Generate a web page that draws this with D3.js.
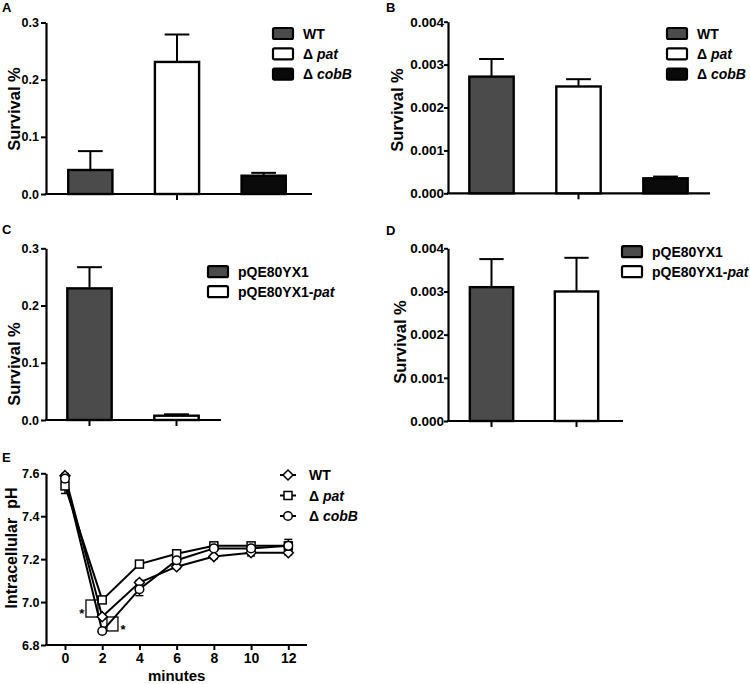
<!DOCTYPE html>
<html><head><meta charset="utf-8">
<script src="https://cdn.jsdelivr.net/npm/d3@7"></script>
<style>
body{margin:0;background:#fff;}
svg text{font-family:"Liberation Sans",Arial,sans-serif;font-weight:bold;fill:#000;}
</style></head>
<body><svg id="c" width="750" height="684"></svg>
<script>
// ---------- DATA ----------
const groupsAB = ["WT", "Δ pat", "Δ cobB"];
const survivalA = [0.042, 0.231, 0.032];
const errorA = [0.033, 0.048, 0.005];
const survivalB = [0.00272, 0.00249, 0.00035];
const errorB = [0.00041, 0.00017, 0.00004];
const groupsCD = ["pQE80YX1", "pQE80YX1-pat"];
const survivalC = [0.230, 0.0075];
const errorC = [0.037, 0.0025];
const survivalD = [0.0031, 0.0030];
const errorD = [0.00065, 0.00078];
const ticksAC = [0, 0.1, 0.2, 0.3];
const ticksBD = [0, 0.001, 0.002, 0.003, 0.004];

const minutes = [0, 2, 4, 6, 8, 10, 12];
const phWT = [7.589, 6.932, 7.091, 7.165, 7.212, 7.230, 7.230];
const phPat = [7.541, 7.010, 7.177, 7.225, 7.262, 7.262, 7.262];
const phCobB = [7.575, 6.865, 7.060, 7.195, 7.250, 7.250, 7.262];
const errWT = [0.01, 0.01, 0.01, 0.01, 0.01, 0.015, 0.01];
const errPat = [0.035, 0.01, 0.01, 0.01, 0.01, 0.01, 0.01];
const errCobB = [0.01, 0.01, 0.03, 0.01, 0.01, 0.01, 0.03];
const phTicks = [6.8, 7.0, 7.2, 7.4, 7.6];
const starMinutes = [0.9, 3.12];
const starPH = [6.955, 6.878];
const boxMinutes = [1.45, 2.55];
const boxPH = [6.970, 6.898];

// ---------- STYLE ----------
const GRAY = "#4b4b4b", BLACK = "#0a0a0a", WHITE = "#ffffff";
const svg = d3.select("#c");

function legendLabel(sel, label, size) {
  const m = label.match(/^(.*?)(pat|cobB)$/);
  if (m) {
    sel.append("tspan").text(m[1]);
    sel.append("tspan").attr("font-style", "italic").text(m[2]);
  } else sel.text(label);
  sel.attr("font-size", size);
}

function barPanel(o) {
  const g = svg.append("g");
  const x = d3.scaleBand().domain(o.groups).range(o.xRange).paddingInner(0.49).paddingOuter(0.245);
  const y = d3.scaleLinear().domain([0, o.ymax]).range(o.yRange);
  const ya = d3.axisLeft(y).tickValues(o.ticks).tickFormat(d3.format(o.fmt))
    .tickSize(o.tickSize).tickPadding(o.tickPad).tickSizeOuter(0);
  const gy = g.append("g").attr("transform", `translate(${o.xAxis},0)`).call(ya);
  gy.select(".domain").attr("stroke-width", 2.2).attr("stroke", "#000");
  gy.selectAll(".tick line").attr("stroke-width", 2).attr("stroke", "#000");
  gy.selectAll(".tick text").attr("font-size", o.tickFont).attr("font-family", null);
  g.append("line").attr("x1", o.xAxis - 1).attr("x2", o.xEnd)
    .attr("y1", y(0)).attr("y2", y(0)).attr("stroke", "#000").attr("stroke-width", 2.2);
  o.xTicks.forEach(k => {
    const cx = x(o.groups[k]) + x.bandwidth() / 2;
    g.append("line").attr("x1", cx).attr("x2", cx).attr("y1", y(0)).attr("y2", y(0) + 6)
      .attr("stroke", "#000").attr("stroke-width", 2);
  });
  o.values.forEach((v, i) => {
    const cx = x(o.groups[i]) + x.bandwidth() / 2;
    const hw = x.bandwidth() * 0.28;
    g.append("line").attr("x1", cx).attr("x2", cx).attr("y1", y(v)).attr("y2", y(v + o.errors[i]))
      .attr("stroke", "#000").attr("stroke-width", 2);
    g.append("line").attr("x1", cx - hw).attr("x2", cx + hw).attr("y1", y(v + o.errors[i])).attr("y2", y(v + o.errors[i]))
      .attr("stroke", "#000").attr("stroke-width", 2);
  });
  g.selectAll("rect.bar").data(o.values).join("rect").attr("class", "bar")
    .attr("x", (d, i) => x(o.groups[i]))
    .attr("width", x.bandwidth())
    .attr("y", d => y(d))
    .attr("height", d => y(0) - y(d))
    .attr("fill", (d, i) => o.colors[i]).attr("stroke", "#000").attr("stroke-width", 2.4);
  g.append("text").attr("transform", `translate(${o.ylabX},${o.ylabY}) rotate(-90)`)
    .attr("text-anchor", "middle").attr("font-size", 16.5).text("Survival %");
  g.append("text").attr("x", o.letterX).attr("y", o.letterY).attr("font-size", 13).text(o.letter);
  o.groups.forEach((gname, i) => {
    const ly = o.legY + i * o.legStep;
    g.append("rect").attr("x", o.legX).attr("y", ly - 5.5).attr("width", 20).attr("height", 11)
      .attr("rx", 1.5).attr("fill", o.colors[i]).attr("stroke", "#000").attr("stroke-width", 2.2);
    const t = g.append("text").attr("x", o.legX + 30).attr("y", ly + 5);
    legendLabel(t, gname, 14);
  });
}

barPanel({groups: groupsAB, values: survivalA, errors: errorA, colors: [GRAY, WHITE, BLACK],
  xRange: [47, 307], xAxis: 46, xEnd: 312, ymax: 0.3, yRange: [194, 22.5], ticks: ticksAC, fmt: ".1f",
  tickSize: 5, tickPad: 2, tickFont: 12.5, xTicks: [1], ylabX: 20, ylabY: 109,
  letter: "A", letterX: 2, letterY: 12, legX: 273, legY: 33.5, legStep: 20.3});
barPanel({groups: groupsAB, values: survivalB, errors: errorB, colors: [GRAY, WHITE, BLACK],
  xRange: [448, 709], xAxis: 448, xEnd: 710, ymax: 0.004, yRange: [193.3, 21.7], ticks: ticksBD, fmt: ".3f",
  tickSize: 4, tickPad: 0, tickFont: 13.5, xTicks: [1], ylabX: 403, ylabY: 110,
  letter: "B", letterX: 386, letterY: 12, legX: 667, legY: 33.5, legStep: 20.3});
barPanel({groups: groupsCD, values: survivalC, errors: errorC, colors: [GRAY, WHITE],
  xRange: [46, 220], xAxis: 46, xEnd: 221, ymax: 0.3, yRange: [420, 248.3], ticks: ticksAC, fmt: ".1f",
  tickSize: 5, tickPad: 2, tickFont: 12.5, xTicks: [0, 1], ylabX: 20, ylabY: 364,
  letter: "C", letterX: 2, letterY: 234, legX: 208, legY: 271.7, legStep: 20});
barPanel({groups: groupsCD, values: survivalD, errors: errorD, colors: [GRAY, WHITE],
  xRange: [449, 619], xAxis: 448, xEnd: 623, ymax: 0.004, yRange: [421, 248.3], ticks: ticksBD, fmt: ".3f",
  tickSize: 4, tickPad: 0, tickFont: 13.5, xTicks: [0, 1], ylabX: 406, ylabY: 342,
  letter: "D", letterX: 386, letterY: 235, legX: 622, legY: 251.7, legStep: 20});

// ---------- PANEL E ----------
(function () {
  const g = svg.append("g");
  const x = d3.scaleLinear().domain([0, 12]).range([65, 288.3]);
  const y = d3.scaleLinear().domain([6.8, 7.6]).range([645, 473.3]);
  const ya = d3.axisLeft(y).tickValues(phTicks).tickFormat(d3.format(".1f")).tickSize(5).tickPadding(1.5).tickSizeOuter(0);
  const gy = g.append("g").attr("transform", "translate(46,0)").call(ya);
  gy.select(".domain").attr("stroke-width", 2.2).attr("stroke", "#000");
  gy.selectAll(".tick line").attr("stroke-width", 2).attr("stroke", "#000");
  gy.selectAll(".tick text").attr("font-size", 12.5).attr("font-family", null);
  const xa = d3.axisBottom(x).tickValues(minutes).tickFormat(d3.format("d")).tickSize(5).tickPadding(3).tickSizeOuter(0);
  const gx = g.append("g").attr("transform", `translate(0,${y(6.8)})`).call(xa);
  gx.select(".domain").remove();
  g.append("line").attr("x1", 45).attr("x2", 307).attr("y1", y(6.8)).attr("y2", y(6.8)).attr("stroke", "#000").attr("stroke-width", 2.2);
  gx.selectAll(".tick line").attr("stroke-width", 2).attr("stroke", "#000");
  gx.selectAll(".tick text").attr("font-size", 14).attr("font-family", null);

  g.append("text").attr("x", (x(0) + x(12)) / 2).attr("y", 681).attr("text-anchor", "middle").attr("font-size", 15).text("minutes");
  g.append("text").attr("transform", "translate(17,548) rotate(-90)").attr("text-anchor", "middle")
    .attr("font-size", 16).attr("xml:space", "preserve").text("Intracellular  pH");
  g.append("text").attr("x", 2).attr("y", 462).attr("font-size", 13).text("E");

  const boxW = [12, 11], boxH = [17, 14];
  boxMinutes.forEach((m, i) => {
    g.append("rect").attr("x", x(m) - boxW[i] / 2).attr("y", y(boxPH[i]) - boxH[i] / 2)
      .attr("width", boxW[i]).attr("height", boxH[i]).attr("fill", "none").attr("stroke", "#000").attr("stroke-width", 1.3);
  });
  starMinutes.forEach((m, i) => {
    g.append("text").attr("x", x(m)).attr("y", y(starPH[i]) + 6).attr("text-anchor", "middle").attr("font-size", 13).text("*");
  });

  const series = [
    {name: "WT", vals: phWT, err: errWT, shape: "diamond"},
    {name: "Δ pat", vals: phPat, err: errPat, shape: "square"},
    {name: "Δ cobB", vals: phCobB, err: errCobB, shape: "circle"}
  ];
  const line = d3.line().x((d, i) => x(minutes[i])).y(d => y(d));
  series.forEach(s => {
    g.append("path").attr("d", line(s.vals)).attr("fill", "none").attr("stroke", "#000").attr("stroke-width", 2);
  });
  series.forEach(s => {
    s.vals.forEach((v, i) => {
      const cx = x(minutes[i]);
      [v + s.err[i], v - s.err[i]].forEach(e => {
        g.append("line").attr("x1", cx).attr("x2", cx).attr("y1", y(v)).attr("y2", y(e)).attr("stroke", "#000").attr("stroke-width", 1.5);
        g.append("line").attr("x1", cx - 4).attr("x2", cx + 4).attr("y1", y(e)).attr("y2", y(e)).attr("stroke", "#000").attr("stroke-width", 1.5);
      });
    });
  });
  function marker(sel, shape, cx, cy) {
    if (shape === "diamond") sel.append("path").attr("d", `M${cx},${cy - 5}L${cx + 5},${cy}L${cx},${cy + 5}L${cx - 5},${cy}Z`);
    else if (shape === "square") sel.append("rect").attr("x", cx - 4).attr("y", cy - 4).attr("width", 8).attr("height", 8);
    else sel.append("circle").attr("cx", cx).attr("cy", cy).attr("r", 4.3);
  }
  series.forEach(s => {
    const mg = g.append("g").attr("fill", "#fff").attr("stroke", "#000").attr("stroke-width", 1.5);
    s.vals.forEach((v, i) => marker(mg, s.shape, x(minutes[i]), y(v)));
  });
  series.forEach((s, i) => {
    const ly = 475 + i * 20.5;
    g.append("line").attr("x1", 280).attr("x2", 296).attr("y1", ly).attr("y2", ly).attr("stroke", "#000").attr("stroke-width", 2);
    const mg = g.append("g").attr("fill", "#fff").attr("stroke", "#000").attr("stroke-width", 1.5);
    marker(mg, s.shape, 288, ly);
    const t = g.append("text").attr("x", 309).attr("y", ly + 5);
    legendLabel(t, s.name, 14);
  });
})();
</script></body></html>
